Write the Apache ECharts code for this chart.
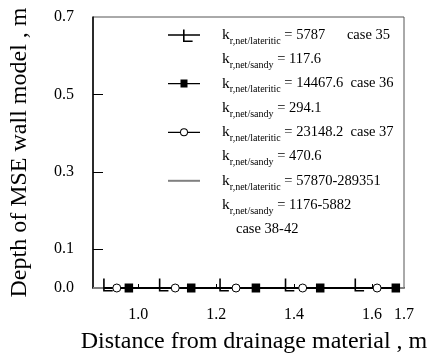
<!DOCTYPE html>
<html><head><meta charset="utf-8">
<script src="https://cdn.jsdelivr.net/npm/echarts@6/dist/echarts.min.js"></script>
<style>html,body{margin:0;padding:0;background:#fff}#c{width:432px;height:359px}</style>
</head><body><div id="c"></div>
<script>
// ---- data ----
const seriesNames = ['case 35', 'case 36', 'case 37', 'case 38-42'];
const xCase35 = [0.912, 1.055, 1.210, 1.378, 1.557];
const depthCase35 = [0, 0, 0, 0, 0];
const xCase36 = [0.976, 1.136, 1.302, 1.467, 1.661];
const depthCase36 = [0, 0, 0, 0, 0];
const xCase37 = [0.945, 1.095, 1.251, 1.422, 1.613];
const depthCase37 = [0, 0, 0, 0, 0];
const xCase38 = [0.884, 1.682];
const depthCase38 = [0, 0];
const xTickLabels = [1.0, 1.2, 1.4, 1.6, 1.682];
const xTicks = [1.0, 1.2, 1.4, 1.6];
const yTickLabels = [0, 0.1, 0.3, 0.5, 0.7];
const yTicks = [0.1, 0.3, 0.5];
const kLateritic = ['5787      case 35', '14467.6  case 36', '23148.2  case 37', '57870-289351'];
const kSandy = ['117.6', '294.1', '470.6', '1176-5882'];

const F = 'Liberation Serif';
const LH = 24.2;
const zip = (xs, ys) => xs.map((x, i) => [x, ys[i]]);

const chart = echarts.init(document.getElementById('c'), null, {renderer: 'canvas'});
const option = {
  animation: false,
  backgroundColor: '#fff',
  grid: {left: 91, right: 28, top: 17, bottom: 68, show: true, borderColor: '#555', borderWidth: 1},
  xAxis: {
    type: 'value', min: 0.884, max: 1.682,
    name: 'Distance from drainage material , m',
    nameLocation: 'middle', nameGap: 42,
    nameTextStyle: {fontFamily: F, fontSize: 24, color: '#000', padding: [0, 0, 0, 11]},
    axisLine: {show: true, lineStyle: {color: '#000', width: 1.5}},
    axisTick: {show: true, inside: true, length: 4, customValues: xTicks, lineStyle: {color: '#000'}},
    axisLabel: {customValues: xTickLabels, fontFamily: F, fontSize: 16, color: '#000', margin: 19,
      formatter: v => v.toFixed(1)},
    splitLine: {show: false}
  },
  yAxis: {
    type: 'value', min: 0, max: 0.7,
    name: 'Depth of MSE wall model , m',
    nameLocation: 'middle', nameGap: 61,
    nameTextStyle: {fontFamily: F, fontSize: 24, color: '#000'},
    axisLine: {show: true, lineStyle: {color: '#000', width: 1.5}},
    axisTick: {show: true, inside: true, length: 10, customValues: yTicks, lineStyle: {color: '#000'}},
    axisLabel: {customValues: yTickLabels, fontFamily: F, fontSize: 16, color: '#000', margin: 19,
      formatter: v => v.toFixed(1)},
    splitLine: {show: false}
  },
  legend: {
    orient: 'vertical', left: 168, top: -25.5, padding: 0,
    itemWidth: 32, itemHeight: 14, itemGap: -72.4,
    selectedMode: false,
    itemStyle: {borderWidth: 0},
    data: [
      {name: seriesNames[0], icon: 'path://M0,0 M0,6.25h32v1.5h-32z M15,1.5h1.6v11h8v1.5h-9.6z', itemStyle: {color: '#000', borderWidth: 0}},
      {name: seriesNames[1], icon: 'path://M0,3.5h12.5v1.2h-12.5z M19.5,3.5h12.5v1.2h-12.5z M12.5,0h7v8h-7z', itemStyle: {color: '#000', borderWidth: 0}},
      {name: seriesNames[2], icon: 'path://M0,3.5h12v1.2h-12z M20,3.5h12v1.2h-12z M12,4a4,4 0 1,0 8,0a4,4 0 1,0 -8,0z M13,4a3,3 0 1,1 6,0a3,3 0 1,1 -6,0z', itemStyle: {color: '#000', borderWidth: 0}},
      {name: seriesNames[3], icon: 'path://M0,0h32v2h-32z', itemStyle: {color: '#808080', borderWidth: 0}}
    ],
    formatter: function (name) {
      const i = seriesNames.indexOf(name);
      let s = '{k|k}{s|r,net/lateritic}{v| = ' + kLateritic[i] + '}\n{k|k}{s|r,net/sandy}{v| = ' + kSandy[i] + '}\n';
      s += (i === 3) ? '{c|case 38-42}' : '{v| }';
      return s;
    },
    textStyle: {
      fontFamily: F, fontSize: 14.5, color: '#000', lineHeight: LH, padding: [2 * LH, 0, 0, 17],
      rich: {
        k: {fontFamily: F, fontSize: 15.5, color: '#000', lineHeight: LH},
        s: {fontFamily: F, fontSize: 10, color: '#000', lineHeight: 12, padding: [12.2, 0, 0, 0], verticalAlign: 'middle'},
        v: {fontFamily: F, fontSize: 14.5, color: '#000', lineHeight: LH},
        c: {fontFamily: F, fontSize: 14.5, color: '#000', lineHeight: LH, padding: [0, 0, 0, 14]}
      }
    }
  },
  series: [
    {
      name: seriesNames[3], type: 'line', data: zip(xCase38, depthCase38), symbol: 'none', z: 1,
      lineStyle: {color: '#808080', width: 2}, itemStyle: {color: '#808080'}
    },
    {
      name: seriesNames[0], type: 'line', data: zip(xCase35, depthCase35), z: 3,
      symbol: 'path://M-8,0 M0,0h1.6v11.5h8v1.5h-9.6z', symbolSize: [17.6, 13], symbolOffset: [0, -3],
      showSymbol: true, showAllSymbol: true,
      lineStyle: {color: '#000', width: 2}, itemStyle: {color: '#000', borderWidth: 0}
    },
    {
      name: seriesNames[1], type: 'line', data: zip(xCase36, depthCase36), z: 4,
      symbol: 'rect', symbolSize: [8.5, 9], showSymbol: true, showAllSymbol: true,
      lineStyle: {color: '#000', width: 2}, itemStyle: {color: '#000', borderWidth: 0}
    },
    {
      name: seriesNames[2], type: 'line', data: zip(xCase37, depthCase37), z: 4,
      symbol: 'circle', symbolSize: 8, showSymbol: true, showAllSymbol: true,
      lineStyle: {color: '#000', width: 2}, itemStyle: {color: '#fff', borderColor: '#000', borderWidth: 1}
    }
  ]
};
chart.setOption(option);
</script></body></html>
